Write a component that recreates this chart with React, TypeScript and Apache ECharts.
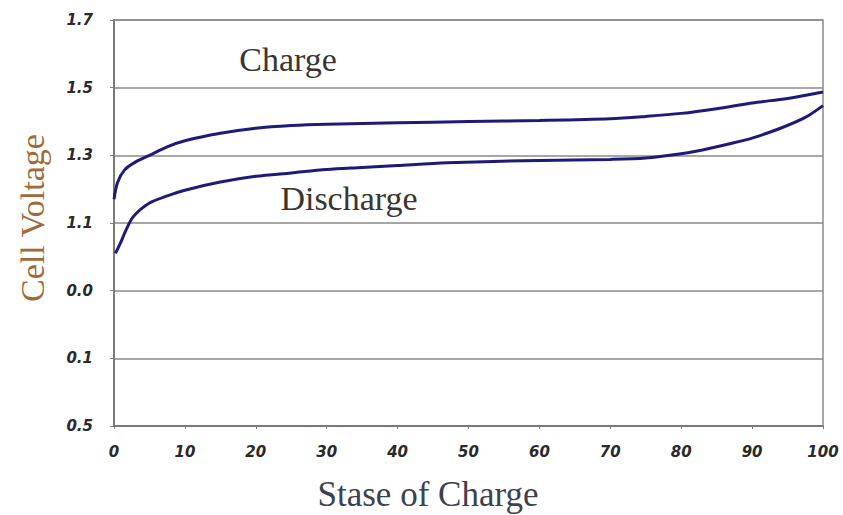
import React, { useEffect, useRef } from "react";
import * as echarts from "echarts";

// Y tick labels as printed on the chart, bottom to top (evenly spaced 0.5 .. 1.7 step 0.2)
const yTickLabels = ["0.5", "0.1", "0.0", "1.1", "1.3", "1.5", "1.7"];
const xTicks = [0, 10, 20, 30, 40, 50, 60, 70, 80, 90, 100];

const chargeSoc = [0, 0.5, 1.5, 3, 5, 7.5, 10, 15, 20, 25, 30, 40, 50, 60, 70, 75, 80, 85, 90, 95, 100];
const chargeV = [1.17, 1.22, 1.257, 1.28, 1.3, 1.325, 1.343, 1.365, 1.38, 1.388, 1.392, 1.396, 1.4, 1.403, 1.408, 1.415, 1.424, 1.438, 1.455, 1.468, 1.487];

const dischargeSoc = [0.2, 1, 1.5, 2.7, 5, 7.5, 10, 15, 20, 25, 30, 35, 40, 47, 60, 70, 75, 80, 83, 87, 90, 94, 97.5, 100];
const dischargeV = [1.01, 1.045, 1.07, 1.118, 1.159, 1.18, 1.197, 1.221, 1.238, 1.248, 1.258, 1.264, 1.27, 1.278, 1.285, 1.288, 1.292, 1.305, 1.316, 1.335, 1.351, 1.38, 1.412, 1.447];

const lineColor = "#1f1a7a";
const serif = "'Liberation Serif', 'Times New Roman', serif";

export default function App() {
  const ref = useRef<HTMLDivElement>(null);
  useEffect(() => {
    if (!ref.current) return;
    const chart = echarts.init(ref.current, undefined, { renderer: "svg" });
    const tickFont = {
      fontFamily: "'DejaVu Sans', Verdana, sans-serif",
      fontWeight: "bold" as const,
      fontStyle: "italic" as const,
      fontSize: 15,
      color: "#2a2a2a",
    };
    chart.setOption({
      animation: false,
      backgroundColor: "#ffffff",
      grid: {
        left: 114,
        right: 20,
        top: 20,
        bottom: 89,
        show: true,
        borderColor: "#8a8a8a",
        borderWidth: 1.5,
      },
      xAxis: {
        type: "value",
        min: 0,
        max: 100,
        interval: 10,
        axisLine: { show: true, lineStyle: { color: "#7a7a7a", width: 2 } },
        axisTick: { show: true, length: 3, lineStyle: { color: "#7a7a7a" } },
        splitLine: { show: false },
        axisLabel: { ...tickFont, margin: 18 },
      },
      yAxis: {
        type: "value",
        min: 0.5,
        max: 1.7,
        interval: 0.2,
        axisLine: { show: true, lineStyle: { color: "#7a7a7a", width: 2 } },
        axisTick: { show: true, length: 4, lineStyle: { color: "#7a7a7a" } },
        splitLine: { show: true, lineStyle: { color: "#8a8a8a", width: 1.5 } },
        axisLabel: {
          ...tickFont,
          margin: 21,
          formatter: (v: number) => {
            const i = Math.round((v - 0.5) / 0.2);
            return yTickLabels[i] ?? "";
          },
        },
      },
      series: [
        {
          name: "Charge",
          type: "line",
          smooth: 0.3,
          showSymbol: false,
          lineStyle: { color: lineColor, width: 3 },
          data: chargeSoc.map((s, i) => [s, chargeV[i]]),
        },
        {
          name: "Discharge",
          type: "line",
          smooth: 0.3,
          showSymbol: false,
          lineStyle: { color: lineColor, width: 3 },
          data: dischargeSoc.map((s, i) => [s, dischargeV[i]]),
        },
      ],
      graphic: [
        {
          type: "text",
          x: 288,
          y: 59,
          style: {
            text: "Charge",
            font: `34px ${serif}`,
            fill: "#3a3530",
            textAlign: "center",
            textVerticalAlign: "middle",
          },
        },
        {
          type: "text",
          x: 349,
          y: 198,
          style: {
            text: "Discharge",
            font: `34px ${serif}`,
            fill: "#3a3530",
            textAlign: "center",
            textVerticalAlign: "middle",
          },
        },
        {
          type: "text",
          x: 32,
          y: 218,
          rotation: Math.PI / 2,
          style: {
            text: "Cell Voltage",
            font: `34px ${serif}`,
            fill: "#a06a3a",
            textAlign: "center",
            textVerticalAlign: "middle",
          },
        },
        {
          type: "text",
          x: 428,
          y: 494,
          style: {
            text: "Stase of Charge",
            font: `35px ${serif}`,
            fill: "#3c4150",
            textAlign: "center",
            textVerticalAlign: "middle",
          },
        },
      ],
    });
    return () => chart.dispose();
  }, []);
  return (
    <div
      ref={ref}
      style={{ position: "fixed", left: 0, top: 0, width: 843, height: 515 }}
    />
  );
}
